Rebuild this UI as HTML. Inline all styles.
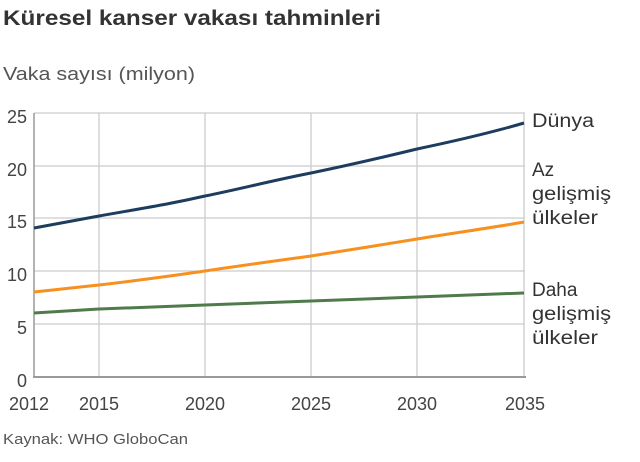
<!DOCTYPE html><html><head><style>body{margin:0;background:#fff;width:640px;height:457px;overflow:hidden;font-family:"Liberation Sans",sans-serif}</style></head><body>
<svg width="640" height="457" xmlns="http://www.w3.org/2000/svg" font-family="Liberation Sans, sans-serif">
<text x="3" y="25" font-size="21" font-weight="bold" fill="#333" textLength="378" lengthAdjust="spacingAndGlyphs">Küresel kanser vakası tahminleri</text>
<text x="3" y="80" font-size="18" fill="#555" textLength="192" lengthAdjust="spacingAndGlyphs">Vaka sayısı (milyon)</text>
<g stroke="#ccc" stroke-width="1.3">
<line x1="34" y1="113" x2="525" y2="113"/><line x1="34" y1="166" x2="525" y2="166"/><line x1="34" y1="218" x2="525" y2="218"/><line x1="34" y1="271" x2="525" y2="271"/><line x1="34" y1="324" x2="525" y2="324"/>
<line x1="99" y1="113" x2="99" y2="377"/><line x1="205" y1="113" x2="205" y2="377"/><line x1="311" y1="113" x2="311" y2="377"/><line x1="417" y1="113" x2="417" y2="377"/><line x1="524" y1="113" x2="524" y2="377"/>
</g>
<line x1="34" y1="113" x2="34" y2="378" stroke="#999" stroke-width="1.5"/>
<line x1="33" y1="377" x2="526" y2="377" stroke="#999" stroke-width="2"/>
<g font-size="18" fill="#444" text-anchor="end">
<text x="27" y="123">25</text><text x="27" y="176">20</text><text x="27" y="228">15</text><text x="27" y="281">10</text><text x="27" y="334">5</text><text x="27" y="387">0</text></g>
<g font-size="18" fill="#444" text-anchor="middle">
<text x="29" y="410">2012</text><text x="99" y="410">2015</text><text x="205" y="410">2020</text><text x="311" y="410">2025</text><text x="417" y="410">2030</text><text x="525" y="410">2035</text></g>
<g fill="none" stroke-width="3">
<path d="M34,228 L99,216 C150,207 170,204 205,196 C240,189 270,181 311,173 C350,165 380,158 417,149 C460,140 490,133 524,123" stroke="#1d3d5f"/>
<path d="M34,292 L99,285 C150,279 170,276 205,271 C245,265 275,261 311,256 C350,250 380,245 417,239 C460,232 490,228 524,222" stroke="#f7901e"/>
<path d="M34,313 L99,309 L205,305 L311,301 L417,297 L524,293" stroke="#4f7b4b"/>
</g>
<g font-size="19" fill="#333">
<text x="532" y="127" textLength="62" lengthAdjust="spacingAndGlyphs">Dünya</text>
<text x="532" y="176">Az</text><text x="532" y="200" textLength="79" lengthAdjust="spacingAndGlyphs">gelişmiş</text><text x="532" y="224" textLength="66" lengthAdjust="spacingAndGlyphs">ülkeler</text>
<text x="532" y="296">Daha</text><text x="532" y="320" textLength="79" lengthAdjust="spacingAndGlyphs">gelişmiş</text><text x="532" y="344" textLength="66" lengthAdjust="spacingAndGlyphs">ülkeler</text>
</g>
<text x="3" y="444" font-size="15" fill="#555" textLength="185" lengthAdjust="spacingAndGlyphs">Kaynak: WHO GloboCan</text>
</svg></body></html>
